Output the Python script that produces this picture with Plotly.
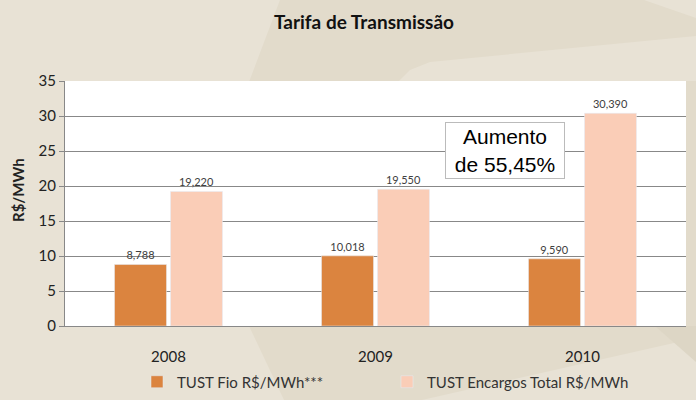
import plotly.graph_objects as go

years = ["2008", "2009", "2010"]
fio = [8.788, 10.018, 9.590]
encargos = [19.220, 19.550, 30.390]
series_names = ["TUST Fio R$/MWh***", "TUST Encargos Total R$/MWh"]
y_ticks = [0, 5, 10, 15, 20, 25, 30, 35]

W, H = 696, 400
L, R, T, B = 65, 10, 81, 74
pw, ph = W - L - R, H - T - B


def px(x):
    return (x - L) / pw


def py(y):
    return (H - B - y) / ph


fig = go.Figure()
fig.add_trace(go.Bar(x=years, y=fio, name=series_names[0], marker_color="#DB843F",
                     texttemplate="%{y:.3f}", textposition="outside",
                     textfont=dict(size=11, color="#404040", family="Lato"), cliponaxis=False))
fig.add_trace(go.Bar(x=years, y=encargos, name=series_names[1], marker_color="#FACDB7",
                     texttemplate="%{y:.3f}", textposition="outside",
                     textfont=dict(size=11, color="#404040", family="Lato"), cliponaxis=False))

# decorative background shapes (pixel -> paper coords)
def poly(points, color):
    path = "M " + " L ".join(f"{px(a):.4f},{py(b):.4f}" for a, b in points) + " Z"
    return dict(type="path", xref="paper", yref="paper", path=path,
                fillcolor=color, line=dict(width=0), layer="below")

dark = "#E2DBCB"
darker = "#DDD6C5"
shapes = [
    poly([(280, 0), (644, 0), (696, 18), (696, 36), (430, 62), (410, 70), (398, 82), (249, 82)], dark),
    poly([(249, 326), (696, 326), (696, 338), (422, 400), (284, 400)], dark),
    poly([(655, 326), (696, 326), (696, 362)], darker),
    poly([(686, 81), (696, 81), (696, 326), (686, 326)], dark),
    dict(type="rect", xref="paper", yref="paper", x0=0, x1=1, y0=0, y1=1,
         fillcolor="white", line=dict(width=0), layer="below"),
]

fig.update_layout(
    width=W, height=H,
    margin=dict(l=L, r=R, t=T, b=B, autoexpand=False),
    paper_bgcolor="#E8E2D5",
    plot_bgcolor="white",
    separators=",.",
    barmode="group",
    bargap=0.459,
    bargroupgap=0.0714,
    shapes=shapes,
    title=dict(text="<b>Tarifa de Transmissão</b>", x=364 / W, xanchor="center",
               y=1 - 22 / H, yanchor="middle",
               font=dict(family="Lato", size=19, color="#111111")),
    font=dict(family="Lato", size=15, color="#222222"),
    showlegend=True,
    legend=dict(orientation="h", x=px(137), xanchor="left", y=py(382), yanchor="middle",
                font=dict(size=15, color="#333333", family="Lato"),
                entrywidth=205, entrywidthmode="pixels", bgcolor="rgba(0,0,0,0)"),
    annotations=[
        dict(text="<b>R$/MWh</b>", xref="paper", yref="paper", x=px(18), y=py(190),
             textangle=-90, showarrow=False, font=dict(size=15, family="Lato", color="#222222"),
             xanchor="center", yanchor="middle"),
        dict(text="Aumento<br>de 55,45%", xref="paper", yref="paper", x=px(505), y=py(150),
             showarrow=False, xanchor="center", yanchor="middle",
             font=dict(size=21, family="Liberation Sans", color="#000000"),
             bgcolor="white", bordercolor="#BBBBBB", borderwidth=1, borderpad=2,
             width=114, height=51),
    ],
)
fig.update_yaxes(range=[0, 35], tickvals=y_ticks, showgrid=True, gridcolor="#888888", gridwidth=1,
                 showline=True, linecolor="#888888", linewidth=1, ticks="outside", ticklen=5,
                 tickcolor="#888888", zeroline=False, tickfont=dict(size=15, color="#222222"))
fig.update_xaxes(showline=True, linecolor="#888888", linewidth=1, ticks="", ticklabelstandoff=17,
                 tickfont=dict(size=15, color="#222222"))

fig.write_html("out.html")
